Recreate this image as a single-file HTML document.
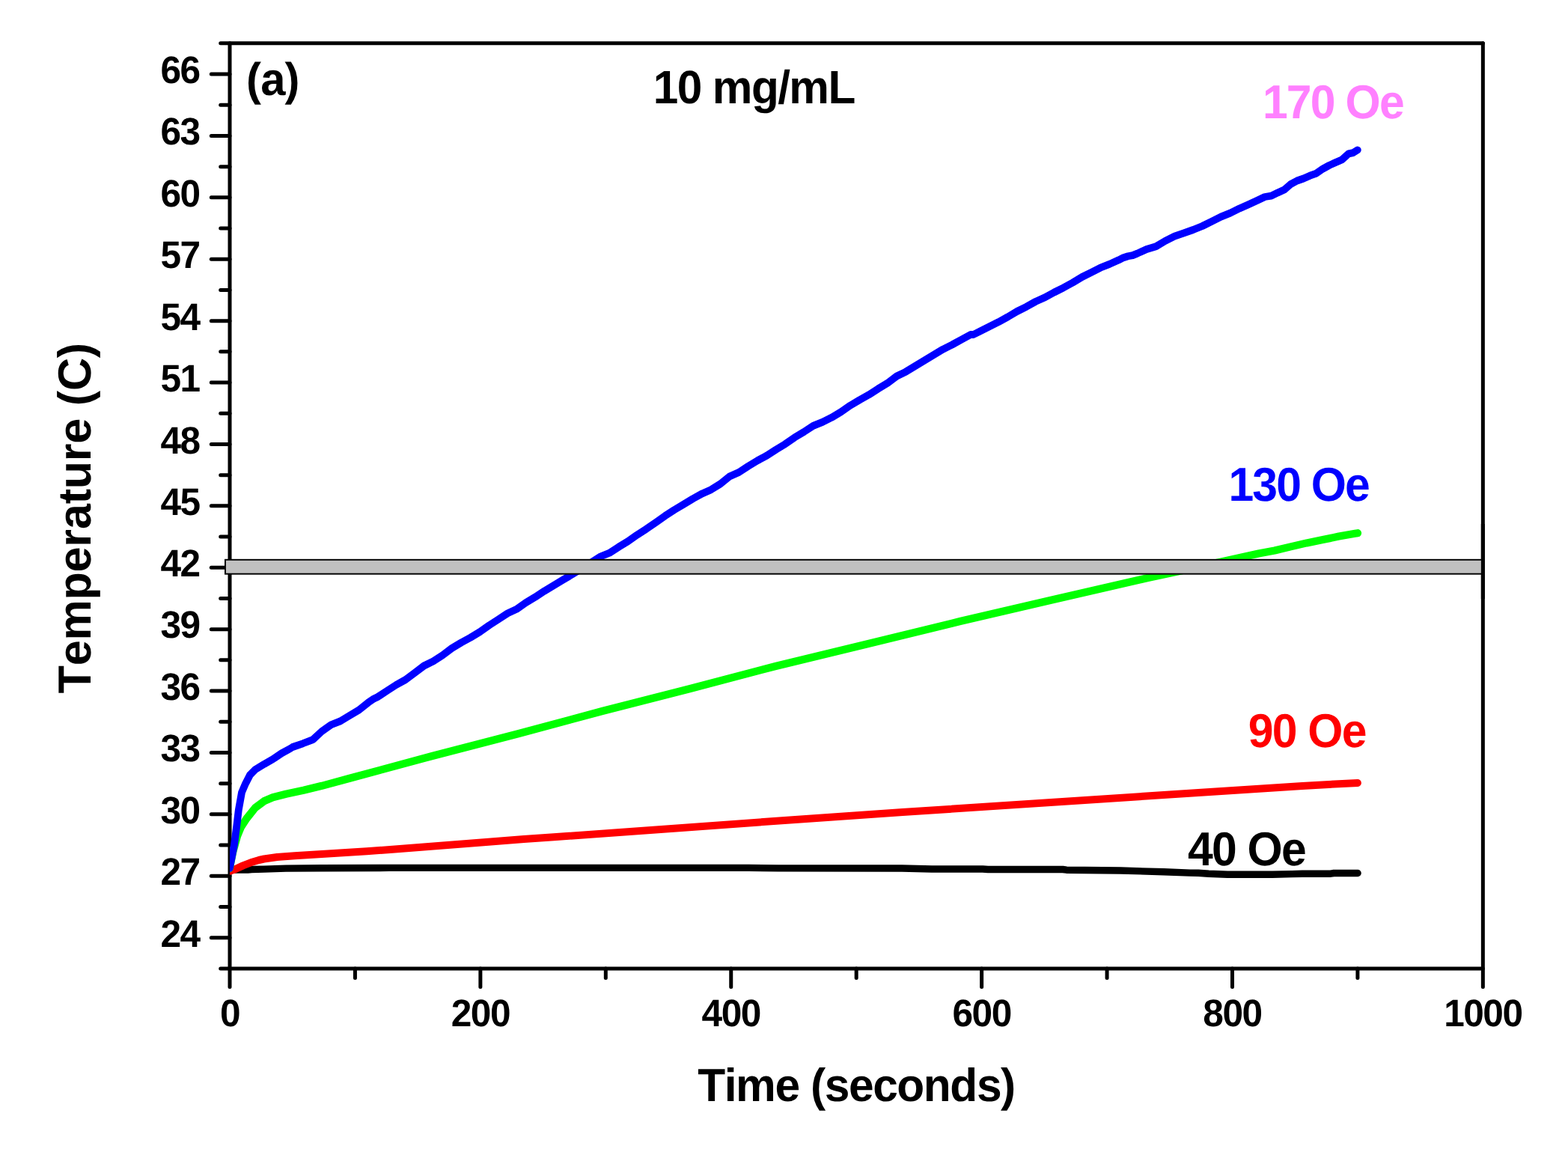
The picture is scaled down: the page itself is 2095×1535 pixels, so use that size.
<!DOCTYPE html>
<html lang="en"><head><meta charset="utf-8"><title>Temperature vs Time, 10 mg/mL</title>
<style>html,body{margin:0;padding:0;background:#fff;overflow:hidden}svg{display:block}text{font-family:"Liberation Sans", sans-serif;font-weight:bold;font-kerning:none;white-space:pre;text-rendering:geometricPrecision}</style></head>
<body>
<svg width="2095" height="1535" viewBox="0 0 2095 1535" role="img" aria-label="Temperature versus time for 10 mg/mL at 40, 90, 130 and 170 Oe">
<rect x="0" y="0" width="2095" height="1535" fill="#ffffff"/>
<g stroke="#000" stroke-width="5.0" fill="none" stroke-linecap="round">
<line x1="307.00" y1="57.86" x2="307.00" y2="1318.50"/>
<line x1="1981.35" y1="57.86" x2="1981.35" y2="1318.50"/>
<line x1="294.70" y1="57.86" x2="1981.35" y2="57.86"/>
<line x1="294.70" y1="1293.95" x2="1981.35" y2="1293.95"/>
<line x1="282.30" y1="1252.67" x2="307.00" y2="1252.67"/>
<line x1="294.70" y1="1211.47" x2="307.00" y2="1211.47"/>
<line x1="282.30" y1="1170.27" x2="307.00" y2="1170.27"/>
<line x1="294.70" y1="1129.07" x2="307.00" y2="1129.07"/>
<line x1="282.30" y1="1087.87" x2="307.00" y2="1087.87"/>
<line x1="294.70" y1="1046.67" x2="307.00" y2="1046.67"/>
<line x1="282.30" y1="1005.47" x2="307.00" y2="1005.47"/>
<line x1="294.70" y1="964.27" x2="307.00" y2="964.27"/>
<line x1="282.30" y1="923.07" x2="307.00" y2="923.07"/>
<line x1="294.70" y1="881.87" x2="307.00" y2="881.87"/>
<line x1="282.30" y1="840.67" x2="307.00" y2="840.67"/>
<line x1="294.70" y1="799.47" x2="307.00" y2="799.47"/>
<line x1="282.30" y1="758.27" x2="307.00" y2="758.27"/>
<line x1="294.70" y1="717.07" x2="307.00" y2="717.07"/>
<line x1="282.30" y1="675.87" x2="307.00" y2="675.87"/>
<line x1="294.70" y1="634.67" x2="307.00" y2="634.67"/>
<line x1="282.30" y1="593.47" x2="307.00" y2="593.47"/>
<line x1="294.70" y1="552.27" x2="307.00" y2="552.27"/>
<line x1="282.30" y1="511.06" x2="307.00" y2="511.06"/>
<line x1="294.70" y1="469.86" x2="307.00" y2="469.86"/>
<line x1="282.30" y1="428.66" x2="307.00" y2="428.66"/>
<line x1="294.70" y1="387.46" x2="307.00" y2="387.46"/>
<line x1="282.30" y1="346.26" x2="307.00" y2="346.26"/>
<line x1="294.70" y1="305.06" x2="307.00" y2="305.06"/>
<line x1="282.30" y1="263.86" x2="307.00" y2="263.86"/>
<line x1="294.70" y1="222.66" x2="307.00" y2="222.66"/>
<line x1="282.30" y1="181.46" x2="307.00" y2="181.46"/>
<line x1="294.70" y1="140.26" x2="307.00" y2="140.26"/>
<line x1="282.30" y1="99.06" x2="307.00" y2="99.06"/>
<line x1="474.44" y1="1293.95" x2="474.44" y2="1306.50"/>
<line x1="641.87" y1="1293.95" x2="641.87" y2="1318.50"/>
<line x1="809.31" y1="1293.95" x2="809.31" y2="1306.50"/>
<line x1="976.74" y1="1293.95" x2="976.74" y2="1318.50"/>
<line x1="1144.17" y1="1293.95" x2="1144.17" y2="1306.50"/>
<line x1="1311.61" y1="1293.95" x2="1311.61" y2="1318.50"/>
<line x1="1479.05" y1="1293.95" x2="1479.05" y2="1306.50"/>
<line x1="1646.48" y1="1293.95" x2="1646.48" y2="1318.50"/>
<line x1="1813.91" y1="1293.95" x2="1813.91" y2="1306.50"/>
</g>
<svg x="307.00" y="57.86" width="1674.35" height="1236.09" viewBox="307.00 57.86 1674.35 1236.09" overflow="hidden">
<polyline points="300.0,1162.1 331.0,1162.1 336.0,1161.5 352.8,1161.1 382.0,1160.1 430.0,1159.7 520.0,1159.4 1000.0,1159.4 1040.0,1159.9 1205.0,1160.0 1245.0,1161.0 1313.0,1161.0 1320.0,1161.5 1420.0,1161.5 1425.0,1162.2 1497.0,1163.0 1555.0,1164.8 1590.0,1166.1 1601.0,1166.3 1615.0,1167.2 1640.0,1168.2 1700.0,1168.2 1726.0,1167.6 1740.0,1167.2 1778.0,1167.2 1782.0,1166.5 1814.1,1166.5" fill="none" stroke="#000000" stroke-width="9.4" stroke-linejoin="round" stroke-linecap="round"/>
<polyline points="300.0,1165.8 307.0,1163.8 314.2,1161.3 324.7,1156.4 335.1,1152.3 346.0,1149.0 352.8,1147.5 370.3,1145.0 393.8,1143.3 430.0,1140.9 490.0,1137.2 521.2,1135.0 649.5,1125.0 700.0,1121.1 740.0,1118.3 1062.5,1095.0 1206.0,1085.0 1589.4,1059.8 1740.0,1049.9 1813.9,1045.9" fill="none" stroke="#ff0000" stroke-width="10.0" stroke-linejoin="round" stroke-linecap="round"/>
<polyline points="306.8,1160.0 311.0,1139.0 317.0,1117.2 321.7,1105.5 329.3,1093.8 341.0,1079.1 352.8,1070.3 364.5,1065.3 382.1,1060.8 405.5,1055.8 430.0,1049.8 466.3,1040.0 577.5,1010.0 693.2,980.0 804.7,950.0 922.2,920.0 1036.3,890.0 1160.1,860.0 1282.8,830.0 1403.2,802.0 1533.7,772.0 1578.2,762.5 1627.3,751.5 1660.0,744.3 1681.5,739.6 1703.0,735.5 1724.4,730.4 1745.9,725.4 1767.4,721.1 1788.9,716.6 1810.4,712.8 1814.0,712.2" fill="none" stroke="#00ff00" stroke-width="10.2" stroke-linejoin="round" stroke-linecap="round"/>
<polyline points="306.8,1160.0 309.8,1145.0 312.9,1129.0 316.0,1105.5 318.8,1082.0 323.0,1058.6 328.0,1046.9 334.0,1035.2 341.0,1028.1 352.8,1020.9 364.5,1014.3 376.2,1006.4 387.9,1000.0 391.0,998.0 404.6,993.3 418.0,988.1 430.0,977.0 442.4,968.3 454.8,963.4 467.2,955.9 479.6,948.5 492.0,938.6 498.3,934.2 504.5,931.1 516.9,923.0 529.3,915.0 541.7,908.1 554.1,898.8 566.5,889.5 578.9,883.3 591.3,875.3 603.7,866.0 616.2,858.5 628.6,851.7 641.0,844.2 653.4,835.5 665.8,827.5 678.2,819.4 690.0,813.9 702.4,805.2 714.8,797.8 727.2,789.7 739.6,782.3 752.0,774.8 764.5,767.4 783.0,755.8 801.7,743.8 814.1,738.8 826.5,730.8 838.9,723.3 851.3,714.6 863.7,706.6 876.2,697.9 888.6,689.2 901.0,681.1 913.4,673.7 925.8,666.2 938.2,659.4 950.0,654.2 962.4,646.5 974.8,636.5 987.2,631.0 999.6,622.9 1012.0,615.4 1024.5,608.6 1036.9,600.6 1049.3,593.1 1061.7,584.4 1074.1,577.0 1086.5,568.9 1098.9,563.9 1111.3,557.7 1123.7,550.3 1136.2,541.6 1148.6,534.2 1161.0,527.3 1173.4,519.3 1185.8,511.8 1198.2,502.5 1210.0,496.8 1222.4,489.2 1234.8,481.7 1247.2,474.3 1259.6,466.8 1272.0,460.6 1284.5,453.8 1296.9,447.0 1300.6,447.0 1309.3,442.6 1321.7,436.4 1334.1,430.2 1346.5,423.4 1358.9,416.0 1371.3,409.8 1383.7,402.9 1396.2,397.3 1408.6,390.5 1421.0,384.3 1433.4,377.5 1445.8,370.0 1458.2,363.8 1470.0,357.8 1482.4,352.9 1494.8,347.3 1501.0,344.2 1507.2,342.3 1513.4,341.1 1519.6,338.6 1532.0,333.0 1544.5,329.3 1556.9,321.9 1569.3,315.7 1581.7,311.3 1594.1,307.0 1606.5,302.0 1618.9,295.8 1631.3,289.6 1643.7,284.6 1656.2,278.4 1668.6,272.9 1681.0,267.3 1690.0,263.0 1698.6,261.7 1707.2,257.4 1715.8,253.6 1724.4,246.1 1733.0,241.5 1741.6,238.5 1750.2,234.7 1758.8,231.6 1767.4,225.6 1776.0,220.9 1784.6,217.0 1793.2,213.2 1801.8,205.4 1807.8,204.1 1813.8,200.4" fill="none" stroke="#0000ff" stroke-width="9.8" stroke-linejoin="round" stroke-linecap="round"/>
</svg>
<rect x="300.95" y="747.80" width="1679.05" height="18.90" fill="#c0c0c0" stroke="#000" stroke-width="1.95"/>
<line x1="1981.35" y1="700.00" x2="1981.35" y2="800.00" stroke="#000" stroke-width="5.0"/>
<text transform="translate(214.50 1265.07) scale(0.9670 1.0000)" font-size="51.3" text-anchor="start" fill="#000" letter-spacing="-1.540">24</text>
<text transform="translate(214.50 1181.77) scale(0.9670 1.0000)" font-size="51.3" text-anchor="start" fill="#000" letter-spacing="-1.540">27</text>
<text transform="translate(214.50 1100.27) scale(0.9670 1.0000)" font-size="51.3" text-anchor="start" fill="#000" letter-spacing="-1.540">30</text>
<text transform="translate(214.50 1016.77) scale(0.9670 1.0000)" font-size="51.3" text-anchor="start" fill="#000" letter-spacing="-1.540">33</text>
<text transform="translate(214.50 935.47) scale(0.9670 1.0000)" font-size="51.3" text-anchor="start" fill="#000" letter-spacing="-1.540">36</text>
<text transform="translate(214.50 852.17) scale(0.9670 1.0000)" font-size="51.3" text-anchor="start" fill="#000" letter-spacing="-1.540">39</text>
<text transform="translate(214.50 769.57) scale(0.9670 1.0000)" font-size="51.3" text-anchor="start" fill="#000" letter-spacing="-1.540">42</text>
<text transform="translate(214.50 688.27) scale(0.9670 1.0000)" font-size="51.3" text-anchor="start" fill="#000" letter-spacing="-1.540">45</text>
<text transform="translate(214.50 605.87) scale(0.9670 1.0000)" font-size="51.3" text-anchor="start" fill="#000" letter-spacing="-1.540">48</text>
<text transform="translate(214.50 523.47) scale(0.9670 1.0000)" font-size="51.3" text-anchor="start" fill="#000" letter-spacing="-1.540">51</text>
<text transform="translate(214.50 440.66) scale(0.9670 1.0000)" font-size="51.3" text-anchor="start" fill="#000" letter-spacing="-1.540">54</text>
<text transform="translate(214.50 357.96) scale(0.9670 1.0000)" font-size="51.3" text-anchor="start" fill="#000" letter-spacing="-1.540">57</text>
<text transform="translate(214.50 276.26) scale(0.9670 1.0000)" font-size="51.3" text-anchor="start" fill="#000" letter-spacing="-1.540">60</text>
<text transform="translate(214.50 192.86) scale(0.9670 1.0000)" font-size="51.3" text-anchor="start" fill="#000" letter-spacing="-1.540">63</text>
<text transform="translate(214.50 111.46) scale(0.9670 1.0000)" font-size="51.3" text-anchor="start" fill="#000" letter-spacing="-1.540">66</text>
<text transform="translate(293.95 1371.15) scale(0.9670 1.0000)" font-size="51.3" text-anchor="start" fill="#000" letter-spacing="-1.540">0</text>
<text transform="translate(602.72 1371.15) scale(0.9670 1.0000)" font-size="51.3" text-anchor="start" fill="#000" letter-spacing="-1.540">200</text>
<text transform="translate(937.59 1371.15) scale(0.9670 1.0000)" font-size="51.3" text-anchor="start" fill="#000" letter-spacing="-1.540">400</text>
<text transform="translate(1272.46 1371.15) scale(0.9670 1.0000)" font-size="51.3" text-anchor="start" fill="#000" letter-spacing="-1.540">600</text>
<text transform="translate(1607.33 1371.15) scale(0.9670 1.0000)" font-size="51.3" text-anchor="start" fill="#000" letter-spacing="-1.540">800</text>
<text transform="translate(1929.15 1371.15) scale(0.9670 1.0000)" font-size="51.3" text-anchor="start" fill="#000" letter-spacing="-1.540">1000</text>
<text transform="translate(329.12 127.20) scale(0.9700 1.0000)" font-size="61.6" text-anchor="start" fill="#000" letter-spacing="-0.915">(a)</text>
<text transform="translate(872.70 138.40) scale(0.9650 1.0000)" font-size="62.5" text-anchor="start" fill="#000" letter-spacing="-1.626">10 mg/mL</text>
<text transform="translate(1686.88 158.30) scale(0.9550 1.0000)" font-size="63.5" text-anchor="start" fill="#ff80ff" letter-spacing="-1.912">170 Oe</text>
<text transform="translate(1641.58 668.90) scale(0.9550 1.0000)" font-size="63.5" text-anchor="start" fill="#0000ff" letter-spacing="-2.038">130 Oe</text>
<text transform="translate(1667.70 998.30) scale(0.9550 1.0000)" font-size="63.5" text-anchor="start" fill="#ff0000" letter-spacing="-1.655">90 Oe</text>
<text transform="translate(1586.98 1156.20) scale(0.9550 1.0000)" font-size="63.5" text-anchor="start" fill="#000" letter-spacing="-1.703">40 Oe</text>
<text transform="translate(932.22 1471.10) scale(0.9750 1.0000)" font-size="62" text-anchor="start" fill="#000" letter-spacing="-1.452">Time (seconds)</text>
<text transform="translate(121.10 926.39) rotate(-90) scale(0.9850 1.0000)" font-size="62" text-anchor="start" fill="#000" letter-spacing="-0.225">Temperature (C)</text>
</svg>
</body></html>
